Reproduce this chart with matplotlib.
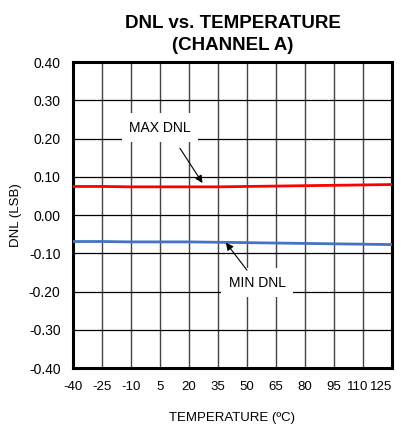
import matplotlib
matplotlib.use("Agg")
import matplotlib.pyplot as plt
import matplotlib.transforms as mtransforms

plt.rcParams['font.family'] = ['Liberation Sans', 'DejaVu Sans']

temps = [-40, -25, -10, 5, 20, 35, 50, 65, 80, 95, 110, 125]
max_dnl = [0.075, 0.075, 0.074, 0.074, 0.074, 0.074, 0.075, 0.076, 0.077, 0.078, 0.079, 0.080]
min_dnl = [-0.069, -0.069, -0.070, -0.070, -0.070, -0.071, -0.072, -0.073, -0.074, -0.075, -0.076, -0.077]
xticks = temps
yticks = [-0.4, -0.3, -0.2, -0.1, 0.0, 0.1, 0.2, 0.3, 0.4]

fig = plt.figure(figsize=(4.02, 4.26), dpi=100)
ax = fig.add_axes([0.1816, 0.136, 0.7934, 0.718])

ax.plot(temps, max_dnl, color='#ff0000', lw=2, zorder=3)
ax.plot(temps, min_dnl, color='#4472c4', lw=2, zorder=3)

ax.set_xlim(-40, 125)
ax.set_ylim(-0.4, 0.4)
ax.set_xticks(xticks)
ax.set_xticklabels([str(t) for t in xticks], fontsize=9.5)
ax.set_yticks(yticks)
ax.set_yticklabels([f"{v:.2f}" for v in yticks], fontsize=10)
ax.tick_params(axis='y', length=0, pad=9)
ax.tick_params(axis='x', length=0, pad=9)
ax.grid(True, axis='y', color='black', lw=0.9)
ax.grid(True, axis='x', color='#444444', lw=1.0)
for s in ax.spines.values():
    s.set_linewidth(2.2)

# nudge crowded right-hand tick labels left
labs = ax.xaxis.get_ticklabels()
for lab, dx in ((labs[-2], -5), (labs[-1], -11)):
    lab.set_transform(lab.get_transform() + mtransforms.ScaledTranslation(dx / 100, 0, fig.dpi_scale_trans))

ax.set_xlabel('TEMPERATURE (ºC)', fontsize=9.5, labelpad=14)
ax.set_ylabel('DNL (LSB)', fontsize=9.5, labelpad=5)
ax.set_title('DNL vs. TEMPERATURE\n(CHANNEL A)', fontsize=13.5, fontweight='bold', pad=9,
             linespacing=1.35)

box = dict(boxstyle='square,pad=0.55', fc='white', ec='none')
ax.text(5.0, 0.229, 'MAX DNL', fontsize=10, ha='center', va='center', bbox=box, zorder=5)
ax.annotate('', xy=(27.0, 0.084), xytext=(15.3, 0.175),
            arrowprops=dict(arrowstyle='-|>', color='black', lw=0.8, shrinkA=0, shrinkB=0,
                            mutation_scale=11), zorder=5)
ax.text(55.2, -0.177, 'MIN DNL', fontsize=10, ha='center', va='center', bbox=box, zorder=5)
ax.annotate('', xy=(39.1, -0.072), xytext=(50.0, -0.144),
            arrowprops=dict(arrowstyle='-|>', color='black', lw=0.8, shrinkA=0, shrinkB=0,
                            mutation_scale=11), zorder=5)

fig.savefig('out.png', dpi=100)
